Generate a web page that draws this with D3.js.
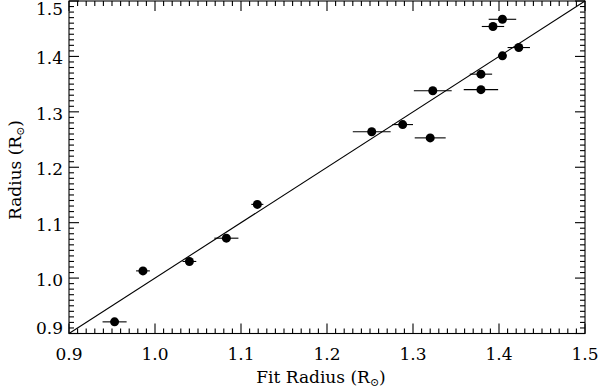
<!DOCTYPE html>
<html><head><meta charset="utf-8">
<script src="https://cdn.jsdelivr.net/npm/d3@7"></script>
<style>body{margin:0;background:#fff}svg{display:block}text{font-family:"DejaVu Serif",serif;fill:#000}</style>
</head><body>
<script>
const fitRadius = [0.953, 0.986, 1.040, 1.083, 1.119, 1.252, 1.288, 1.320, 1.323, 1.379, 1.379, 1.404, 1.423, 1.393, 1.404];
const radius    = [0.921, 1.013, 1.030, 1.072, 1.133, 1.264, 1.277, 1.253, 1.338, 1.340, 1.368, 1.401, 1.416, 1.454, 1.467];
const fitErr    = [0.014, 0.008, 0.008, 0.014, 0.007, 0.022, 0.012, 0.018, 0.022, 0.020, 0.013, 0.004, 0.013, 0.013, 0.016];
const xTicks = [0.9, 1.0, 1.1, 1.2, 1.3, 1.4, 1.5];
const yTicks = [0.9, 1.0, 1.1, 1.2, 1.3, 1.4, 1.5];

const W = 599, H = 391;
const L = 69, R = 585, T = 1, B = 333.5;
const svg = d3.select("body").append("svg").attr("width", W).attr("height", H);
const x = d3.scaleLinear().domain([0.9, 1.5]).range([L, R]);
const y = d3.scaleLinear().domain([0.9, 1.5]).range([B, T]);

const minorX = d3.range(0, 61).map(i => 0.9 + i * 0.01);
const minorY = d3.range(0, 61).map(i => 0.9 + i * 0.01);
const g = svg.append("g").attr("stroke", "#000").attr("stroke-width", 1.1).attr("fill", "none");
// frame
g.append("rect").attr("x", L).attr("y", T).attr("width", R - L).attr("height", B - T);
// ticks
const isMajor = v => Math.abs(v * 10 - Math.round(v * 10)) < 1e-6;
minorX.forEach(v => {
  const len = isMajor(v) ? 10 : 5;
  g.append("line").attr("x1", x(v)).attr("x2", x(v)).attr("y1", B).attr("y2", B - len);
  g.append("line").attr("x1", x(v)).attr("x2", x(v)).attr("y1", T).attr("y2", T + len);
});
minorY.forEach(v => {
  const len = isMajor(v) ? 10 : 5;
  g.append("line").attr("y1", y(v)).attr("y2", y(v)).attr("x1", L).attr("x2", L + len);
  g.append("line").attr("y1", y(v)).attr("y2", y(v)).attr("x1", R).attr("x2", R - len);
});
// tick labels
svg.selectAll(".xl").data(xTicks).enter().append("text")
  .attr("x", d => x(d)).attr("y", B + 26).attr("text-anchor", "middle")
  .attr("font-size", 17).text(d => d.toFixed(1));
svg.selectAll(".yl").data(yTicks).enter().append("text")
  .attr("x", L - 6).attr("y", d => Math.max(Math.min(y(d) + 8, B), 15)).attr("text-anchor", "end")
  .attr("font-size", 17).text(d => d.toFixed(1));
// 1:1 line
g.append("line").attr("x1", x(0.9)).attr("y1", y(0.9)).attr("x2", x(1.5)).attr("y2", y(1.5));
// error bars and points
fitRadius.forEach((fx, i) => {
  g.append("line").attr("x1", x(fx - fitErr[i])).attr("x2", x(fx + fitErr[i]))
    .attr("y1", y(radius[i])).attr("y2", y(radius[i]));
});
svg.selectAll("circle").data(fitRadius).enter().append("circle")
  .attr("cx", d => x(d)).attr("cy", (d, i) => y(radius[i])).attr("r", 4.5).attr("fill", "#000");
// axis titles
const xt = svg.append("text").attr("x", 321).attr("y", 383).attr("text-anchor", "middle").attr("font-size", 17);
xt.append("tspan").text("Fit Radius (R");
xt.append("tspan").attr("font-size", 11).attr("dy", 3).text("⊙");
xt.append("tspan").attr("dy", -3).text(")");
const yt = svg.append("text").attr("transform", "translate(21,170) rotate(-90)").attr("text-anchor", "middle").attr("font-size", 17);
yt.append("tspan").text("Radius (R");
yt.append("tspan").attr("font-size", 11).attr("dy", 3).text("⊙");
yt.append("tspan").attr("dy", -3).text(")");
</script>
</body></html>
